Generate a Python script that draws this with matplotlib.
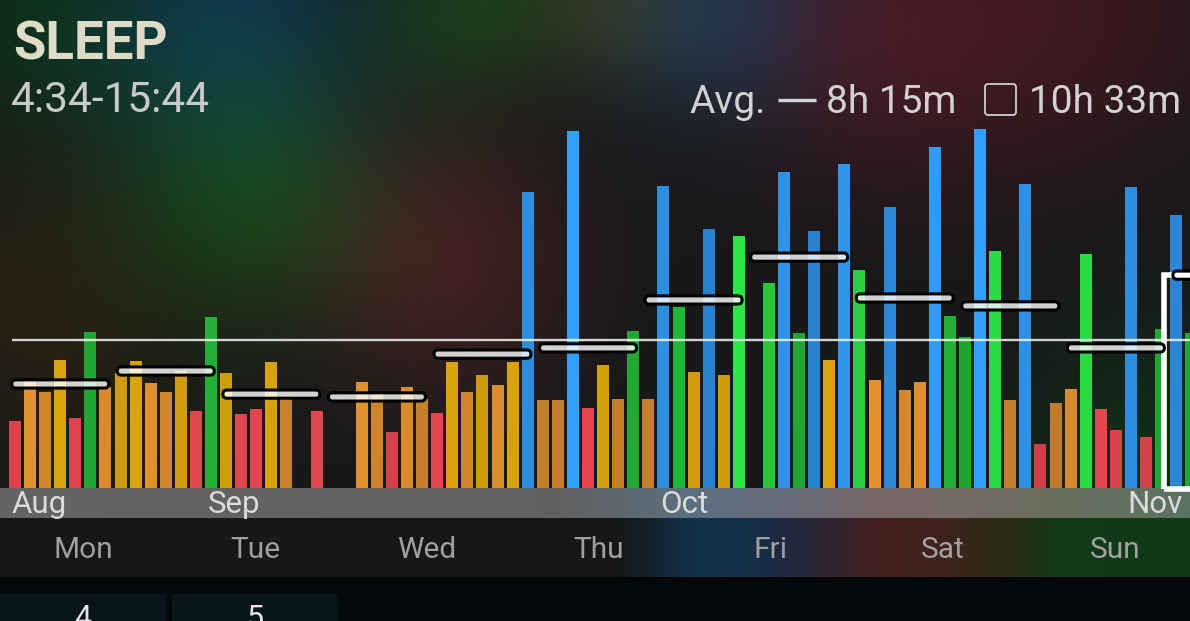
import numpy as np
import matplotlib
matplotlib.use('Agg')
import matplotlib.pyplot as plt
from matplotlib import transforms
from matplotlib.patches import FancyBboxPatch, Rectangle

# ---- data (hours of sleep per night) ----
sleep_hours = [
    5.38, 6.80, 6.41, 7.54, 5.48, 8.53, 6.58,
    7.08, 7.51, 6.72, 6.41, 7.15, 5.73, 9.07,
    7.08, 5.63, 5.80, 7.47, 6.19, None, 5.73,
    None, None, 6.76, 6.33, 4.99, 6.58, 6.16,
    5.66, 7.47, 6.41, 7.02, 6.65, 7.47, 13.50,
    6.12, 6.12, 15.66, 5.84, 7.36, 6.16, 8.57,
    6.16, 13.71, 9.42, 7.11, 12.19, 7.01, 11.94,
    None, 10.27, 14.21, 8.50, 12.12, 7.54, 14.49,
    10.73, 6.83, 12.97, 6.48, 6.76, 15.10, 9.10,
    8.36, 15.73, 11.41, 6.12, 13.78, 4.57, 6.02,
    6.51, 11.30, 5.80, 5.06, 13.68, 4.81, 8.64,
    12.68, 8.50,
]
week_avg = [6.69, 7.15, 6.33, 6.23, 7.75, 7.97, 9.67, 11.19, 9.74, 9.46, 7.97, 10.55]
overall_avg = 8.25
selected_week = 11
month_labels = ['Aug', 'Sep', 'Oct', 'Nov']
month_start = [0, 13, 43, 74]
weekdays = ['Mon', 'Tue', 'Wed', 'Thu', 'Fri', 'Sat', 'Sun']
range_label = '4:34-15:44'
avg_label = '8h 15m'
week_label = '10h 33m'
tiles = ['4', '5']

# ---- geometry of the screenshot ----
W, H = 1190, 621
BASE_PX = 488        # pixel row of the bar baseline
BAR_STEP = 15.08     # px between bars
FIRST_PX = 15        # px centre of first bar
PX_PER_HOUR = 28.19
Y0 = 3.0             # hours at baseline

FONT = ['Roboto', 'DejaVu Sans']
plt.rcParams['font.family'] = FONT

fig = plt.figure(figsize=(W / 100, H / 100), dpi=100)

# ---- background ----
base = np.array([0.086, 0.094, 0.098])
yy, xx = np.mgrid[0:H, 0:W].astype(float)
img = np.zeros((H, W, 3)) + base
blobs = [
    (230, 20, 100, (-0.02, 0.10, 0.19)),
    (30, 10, 90, (-0.03, 0.08, -0.01)),
    (250, 190, 95, (-0.01, 0.15, -0.01)),
    (40, 300, 110, (0.07, 0.03, -0.02)),
    (440, 260, 100, (0.17, 0.03, 0.03)),
    (470, 0, 70, (0.01, 0.13, 0.0)),
    (610, 0, 60, (0.10, 0.07, 0.0)),
    (710, 10, 80, (-0.01, 0.10, 0.18)),
    (880, 30, 110, (0.16, 0.01, 0.04)),
    (1080, 10, 120, (0.12, 0.0, 0.02)),
    (1160, 470, 100, (-0.02, 0.09, 0.0)),
]
for cx, cy, s, amp in blobs:
    g = np.exp(-((xx - cx) ** 2 + (yy - cy) ** 2) / (2 * s * s))
    img += g[..., None] * np.array(amp)


def x_gradient(stops_x, stops_c):
    c = np.array(stops_c)
    xs = np.arange(W)
    return np.stack([np.interp(xs, stops_x, c[:, k]) for k in range(3)], axis=1)


band = x_gradient([0, 560, 690, 780, 880, 960, 1040, 1190],
                  [(0.39, 0.39, 0.39), (0.38, 0.38, 0.38), (0.36, 0.44, 0.50),
                   (0.40, 0.42, 0.48), (0.47, 0.40, 0.40), (0.46, 0.42, 0.40),
                   (0.42, 0.43, 0.37), (0.36, 0.45, 0.38)])
row = x_gradient([0, 620, 700, 760, 810, 880, 930, 1000, 1060, 1190],
                 [base, base, (0.07, 0.2, 0.31), (0.09, 0.18, 0.28), (0.16, 0.15, 0.22),
                  (0.27, 0.13, 0.12), (0.26, 0.13, 0.11), (0.18, 0.17, 0.09),
                  (0.07, 0.23, 0.09), (0.06, 0.23, 0.09)])
img[488:518] = band[None, :, :]
img[518:577] = row[None, :, :]
img[577:580] = (0.02, 0.02, 0.02)
img[580:] = (0.012, 0.035, 0.047)
img = np.clip(img, 0, 1)

ax_bg = fig.add_axes([0, 0, 1, 1])
ax_bg.imshow(img, extent=(0, W, H, 0), aspect='auto', interpolation='bilinear')
ax_bg.set_xlim(0, W)
ax_bg.set_ylim(H, 0)
ax_bg.axis('off')

# bottom tiles (the numbers are cut by the bottom edge, as in the screenshot)
for k, t in enumerate(tiles):
    ax_bg.add_patch(Rectangle((k * 172, 594), 166, 40, color='#07141a', lw=0))
    ax_bg.text(83 + k * 172, 604, t, color='#e6e6e6', fontsize=22,
               ha='center', va='top')

# header
ax_bg.text(13, 59, 'SLEEP', color='#dedbc6', fontsize=38, fontweight='bold', va='baseline')
ax_bg.text(11, 112, range_label, color='#c9c9c9', fontsize=30.5, va='baseline')
ax_bg.text(689, 113, 'Avg.', color='#d2d2d2', fontsize=28, va='baseline')
ax_bg.plot([778, 816], [100, 100], color='#d2d2d2', lw=2.4, solid_capstyle='butt')
ax_bg.text(826, 113, avg_label, color='#d2d2d2', fontsize=28, va='baseline')
ax_bg.add_patch(FancyBboxPatch((985, 84), 31, 31, boxstyle='round,pad=0,rounding_size=3',
                               fc='none', ec='#cfcfcf', lw=1.3))
ax_bg.text(1029, 113, week_label, color='#d2d2d2', fontsize=28, va='baseline')

# weekday row
for k, d in enumerate(weekdays):
    ax_bg.text(83 + 172 * k, 558, d, color='#a0a0a0', fontsize=21.5, ha='center', va='baseline')

# ---- bar chart ----
ax = fig.add_axes([0, (H - BASE_PX) / H, 1, BASE_PX / H])
ax.set_xlim(-FIRST_PX / BAR_STEP, (W - FIRST_PX) / BAR_STEP)
ax.set_ylim(Y0, Y0 + BASE_PX / PX_PER_HOUR)
ax.patch.set_alpha(0)
ax.axis('off')

tiers = [(0.0, 6.0, '#cf3f48', '#e6474f'),
         (6.0, 6.85, '#c07a2a', '#e4932f'),
         (6.85, 8.0, '#c8980f', '#e4aa0c'),
         (8.0, 12.0, '#1f9c30', '#2ee646'),
         (12.0, 99.0, '#2a80cc', '#32a2ff')]


def bar_color(v):
    for lo, hi, c0, c1 in tiers:
        if lo <= v < hi:
            top = min(hi, 16.0)
            lo2 = max(lo, 4.5)
            t = np.clip((v - lo2) / (top - lo2), 0, 1)
            a = np.array(matplotlib.colors.to_rgb(c0))
            b = np.array(matplotlib.colors.to_rgb(c1))
            return tuple(a + (b - a) * t)


vals = np.array([np.nan if v is None else v for v in sleep_hours])
idx = np.arange(len(vals))
ok = ~np.isnan(vals)
ax.bar(idx[ok], vals[ok] - Y0, bottom=Y0, width=12 / BAR_STEP,
       color=[bar_color(v) for v in vals[ok]], zorder=2)

# overall average line
ax.plot([-0.2, len(vals) + 2], [overall_avg, overall_avg], color=(1, 1, 1, 0.8),
        lw=1.7, zorder=3, solid_capstyle='butt')

# selected week frame
sel_left = 7 * selected_week - 0.8
ax.add_patch(Rectangle((sel_left, Y0 - 0.02), 10, week_avg[selected_week] - Y0 + 0.02,
                       fc='none', ec='white', lw=4.0, zorder=4, clip_on=False))

# weekly average pills
sx, sy = BAR_STEP, PX_PER_HOUR
pw, ph = 97.0 / sx, 8.2 / sy
for k, v in enumerate(week_avg):
    cx = 7 * k + 3
    ax.add_patch(FancyBboxPatch((cx - pw / 2, v - ph / 2), pw, ph,
                                boxstyle='round,pad=0,rounding_size=%f' % (4.1 / sx),
                                mutation_aspect=sx / sy,
                                fc=(1, 1, 1, 0.8), ec='black', lw=2.2, zorder=5))

# month labels inside the grey band
trans = transforms.blended_transform_factory(ax.transData, ax_bg.transData)
for m, i in zip(month_labels, month_start):
    ax.text(i - 0.22, 513, m, transform=trans, color='#dadada', fontsize=22.5,
            ha='left', va='baseline', zorder=6, clip_on=False)

fig.savefig('out.png', dpi=100)
